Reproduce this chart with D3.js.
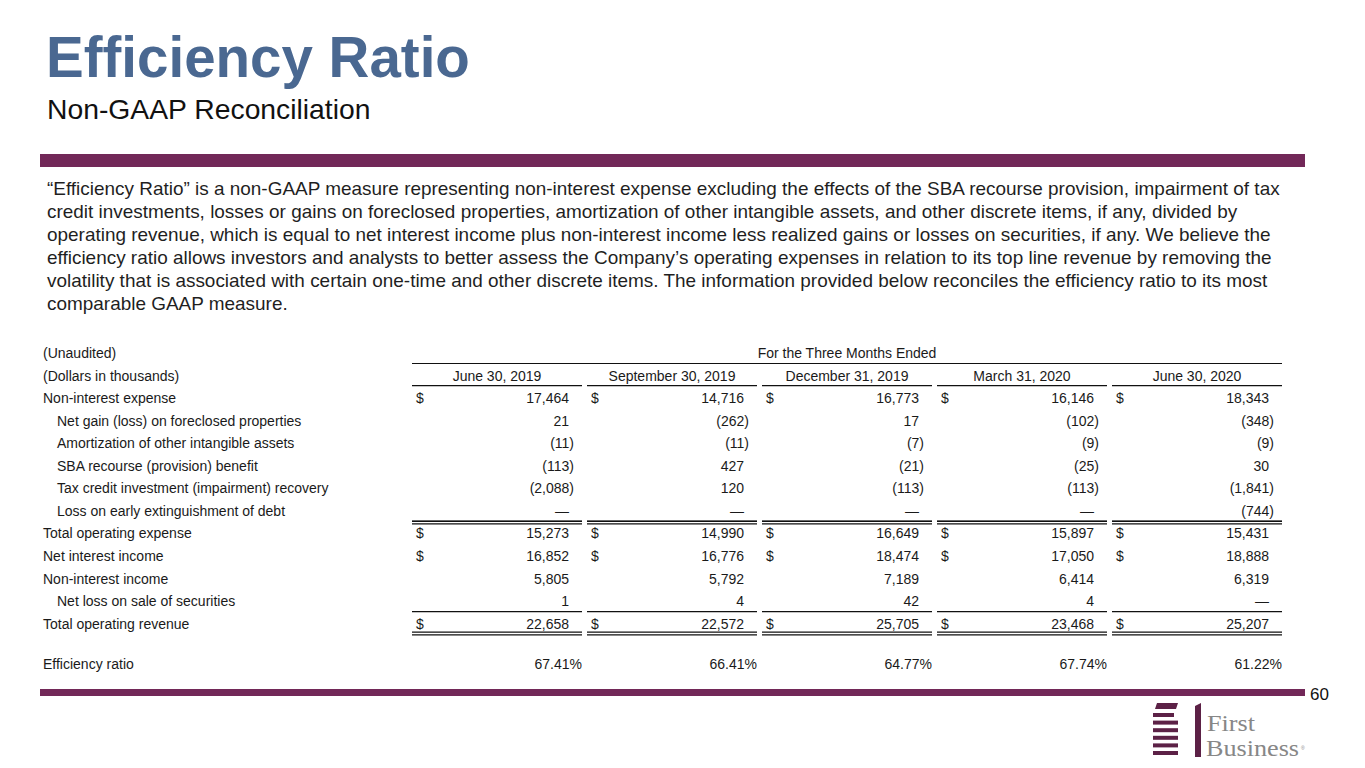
<!DOCTYPE html>
<html><head><meta charset="utf-8">
<script src="https://cdn.jsdelivr.net/npm/d3@7"></script>
<style>
html,body{margin:0;padding:0;background:#fff;}
svg{display:block;font-family:"Liberation Sans",Arial,sans-serif;}
</style></head>
<body>
<script>
const titleText = "Efficiency Ratio";
const subtitleText = "Non-GAAP Reconciliation";
const paragraphLines = [
  "\u201CEfficiency Ratio\u201D is a non-GAAP measure representing non-interest expense excluding the effects of the SBA recourse provision, impairment of tax",
  "credit investments, losses or gains on foreclosed properties, amortization of other intangible assets, and other discrete items, if any, divided by",
  "operating revenue, which is equal to net interest income plus non-interest income less realized gains or losses on securities, if any. We believe the",
  "efficiency ratio allows investors and analysts to better assess the Company\u2019s operating expenses in relation to its top line revenue by removing the",
  "volatility that is associated with certain one-time and other discrete items. The information provided below reconciles the efficiency ratio to its most",
  "comparable GAAP measure."
];
const periods = ["June 30, 2019","September 30, 2019","December 31, 2019","March 31, 2020","June 30, 2020"];
const rowLabels = ["Non-interest expense","Net gain (loss) on foreclosed properties","Amortization of other intangible assets",
  "SBA recourse (provision) benefit","Tax credit investment (impairment) recovery","Loss on early extinguishment of debt",
  "Total operating expense","Net interest income","Non-interest income","Net loss on sale of securities","Total operating revenue"];
const rowIndent = [false,true,true,true,true,true,false,false,false,true,false];
const rowDollar = [true,false,false,false,false,false,true,true,false,false,true];
const nonInterestExpense = [17464,14716,16773,16146,18343];
const netGainForeclosed = [21,-262,17,-102,-348];
const amortizationIntangibles = [-11,-11,-7,-9,-9];
const sbaRecourse = [-113,427,-21,-25,30];
const taxCreditInvestment = [-2088,120,-113,-113,-1841];
const lossExtinguishmentDebt = [0,0,0,0,-744];
const totalOperatingExpense = [15273,14990,16649,15897,15431];
const netInterestIncome = [16852,16776,18474,17050,18888];
const nonInterestIncome = [5805,5792,7189,6414,6319];
const netLossSecurities = [1,4,42,4,0];
const totalOperatingRevenue = [22658,22572,25705,23468,25207];
const efficiencyRatio = [67.41,66.41,64.77,67.74,61.22];
const rowValues = [nonInterestExpense,netGainForeclosed,amortizationIntangibles,sbaRecourse,taxCreditInvestment,
  lossExtinguishmentDebt,totalOperatingExpense,netInterestIncome,nonInterestIncome,netLossSecurities,totalOperatingRevenue];

const W=1365,H=768;
const purple="#722858", blue="#4a6891", txt="#1a1a1a";
const svg=d3.select("body").append("svg").attr("width",W).attr("height",H);

// Title
svg.append("text").attr("x",46).attr("y",77).attr("font-size",56.5).attr("font-weight","bold")
  .attr("fill",blue).text(titleText);
svg.append("text").attr("x",47).attr("y",119).attr("font-size",28.3).attr("fill","#111").text(subtitleText);
svg.append("rect").attr("x",40).attr("y",154).attr("width",1265).attr("height",13).attr("fill",purple);

// paragraph
svg.append("g").selectAll("text").data(paragraphLines).join("text")
  .attr("x",47).attr("y",(d,i)=>195+i*23).attr("font-size",18.95).attr("fill","#1f1f1f")
  .text(d=>d);

// table scales
const x=d3.scaleBand().domain(periods).range([412,1282]).paddingInner(5/175).paddingOuter(0);
const y=d3.scaleLinear().domain([0,1]).range([353,375.55]); // row index -> center y
const fs=14;
const g=svg.append("g").attr("font-size",fs).attr("fill",txt);
const base = i => y(i)+5;

g.append("text").attr("x",43).attr("y",base(0)).text("(Unaudited)");
g.append("text").attr("x",43).attr("y",base(1)).text("(Dollars in thousands)");
g.append("text").attr("x",(x.range()[0]+x.range()[1])/2).attr("y",base(0)).attr("text-anchor","middle").text("For the Three Months Ended");
g.selectAll("text.hdr").data(periods).join("text").attr("class","hdr")
  .attr("x",d=>x(d)+x.bandwidth()/2).attr("y",base(1)).attr("text-anchor","middle").text(d=>d);

const lineG=svg.append("g").attr("stroke","#111").attr("stroke-width",1.2);
lineG.append("line").attr("x1",x.range()[0]).attr("x2",x.range()[1]).attr("y1",363.5).attr("y2",363.5);
function colLines(yy){
  lineG.selectAll(null).data(periods).join("line")
    .attr("x1",d=>x(d)).attr("x2",d=>x(d)+x.bandwidth()).attr("y1",yy).attr("y2",yy);
}
colLines(y(1.45));
colLines(y(7.5)-0.8);
colLines(y(8)-12.4); colLines(y(8)-9.6);
colLines(y(11.5)-0.8);
colLines(y(12)+8.6); colLines(y(12)+11.2);

const fmt=d3.format(",");
rowLabels.forEach((lab,r)=>{
  const ri=r+2;
  g.append("text").attr("x",rowIndent[r]?57:43).attr("y",base(ri)).text(lab);
  const rowG=g.append("g");
  rowG.selectAll("text.v").data(rowValues[r]).join("text").attr("class","v")
    .attr("x",(d,i)=>x(periods[i])+x.bandwidth()-13+(d<0?5:0))
    .attr("y",base(ri)).attr("text-anchor","end")
    .text(d=> d===0 ? "\u2014" : d<0 ? "("+fmt(-d)+")" : fmt(d));
  if(rowDollar[r]){
    rowG.selectAll("text.d").data(periods).join("text").attr("class","d")
      .attr("x",d=>x(d)+4).attr("y",base(ri)).text("$");
  }
});
const effRow=rowLabels.length+2-1+1.8;
g.append("text").attr("x",43).attr("y",base(effRow)).text("Efficiency ratio");
g.selectAll("text.e").data(efficiencyRatio).join("text").attr("class","e")
  .attr("x",(d,i)=>x(periods[i])+x.bandwidth()).attr("y",base(effRow)).attr("text-anchor","end")
  .text(d=>d.toFixed(2)+"%");

// bottom bar and page number
svg.append("rect").attr("x",40).attr("y",689).attr("width",1265).attr("height",7).attr("fill",purple);
svg.append("text").attr("x",1310).attr("y",700).attr("font-size",17).attr("fill","#111").text("60");

// logo
const lg=svg.append("g");
const lp="#5c2146";
lg.append("path").attr("d","M1155,709 L1157,703 L1178,703 L1176,709 Z").attr("fill",lp);
d3.range(6).forEach(k=>{
  lg.append("rect").attr("x",1153).attr("y",713+k*7.6).attr("width",k===0?21:25).attr("height",4).attr("fill",lp);
});
lg.append("path").attr("d","M1195,706 L1201,703 L1201,757 L1195,757 Z").attr("fill",lp);
lg.append("text").attr("x",1207).attr("y",731).attr("font-family","Liberation Serif,serif").attr("font-size",24)
  .attr("fill","#878787").attr("textLength",48).attr("lengthAdjust","spacingAndGlyphs").text("First");
lg.append("text").attr("x",1206).attr("y",756).attr("font-family","Liberation Serif,serif").attr("font-size",24)
  .attr("fill","#878787").attr("textLength",93).attr("lengthAdjust","spacingAndGlyphs").text("Business");
lg.append("text").attr("x",1301).attr("y",750).attr("font-size",5).attr("fill","#878787").text("\u00AE");
</script>
</body></html>
